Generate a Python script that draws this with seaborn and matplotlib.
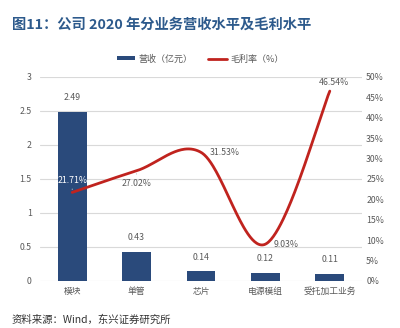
import numpy as np
import matplotlib
matplotlib.use("Agg")
import matplotlib.pyplot as plt
from matplotlib.patches import Patch
from matplotlib.lines import Line2D
import seaborn as sns

# Segment data
categories = ["模块", "单管", "芯片", "电源模组", "受托加工业务"]
revenue = [2.49, 0.43, 0.14, 0.12, 0.11]          # 营收（亿元）
margin = [21.71, 27.02, 31.53, 9.03, 46.54]       # 毛利率（%）
left_ticks = [0, 0.5, 1, 1.5, 2, 2.5, 3]
left_tick_labels = ["0", "0.5", "1", "1.5", "2", "2.5", "3"]
right_ticks = [0, 5, 10, 15, 20, 25, 30, 35, 40, 45, 50]
right_tick_labels = [f"{t}%" for t in right_ticks]

sns.set_theme(style="white")
plt.rcParams["font.family"] = ["Noto Sans CJK SC", "DejaVu Sans"]

BAR = "#2A4A7B"
LINE = "#C0231E"
GRID = "#D9D9D9"
TXT = "#595959"


def smooth_curve(xs, ys, n=60):
    """Cardinal (Catmull-Rom) Bezier smoothing through the given points."""
    xs = np.asarray(xs, float)
    ys = np.asarray(ys, float)
    px = np.concatenate([[xs[0]], xs, [xs[-1]]])
    py = np.concatenate([[ys[0]], ys, [ys[-1]]])
    out_x, out_y = [], []
    t = np.linspace(0, 1, n)
    for i in range(1, len(px) - 2):
        p0 = np.array([px[i], py[i]])
        p3 = np.array([px[i + 1], py[i + 1]])
        c1 = p0 + (np.array([px[i + 1], py[i + 1]]) - np.array([px[i - 1], py[i - 1]])) / 6
        c2 = p3 - (np.array([px[i + 2], py[i + 2]]) - np.array([px[i], py[i]])) / 6
        b = ((1 - t) ** 3)[:, None] * p0 + (3 * (1 - t) ** 2 * t)[:, None] * c1 \
            + (3 * (1 - t) * t ** 2)[:, None] * c2 + (t ** 3)[:, None] * p3
        out_x.extend(b[:, 0])
        out_y.extend(b[:, 1])
    return np.array(out_x), np.array(out_y)


fig = plt.figure(figsize=(4.0, 3.28), dpi=100)
ax = fig.add_axes([0.10, 0.1433, 0.805, 0.622])

sns.barplot(x=categories, y=revenue, color=BAR, width=0.45, ax=ax,
            saturation=1, edgecolor="none")
ax.set_xlim(-0.5, len(categories) - 0.5)
ax.set_ylim(0, 3)
ax.set_yticks(left_ticks)
ax.set_yticklabels(left_tick_labels)
ax.yaxis.grid(True, color=GRID, linewidth=0.8)
ax.set_axisbelow(True)
for s in ax.spines.values():
    s.set_visible(False)
ax.tick_params(axis="both", length=0, colors=TXT, labelsize=6.3)
ax.tick_params(axis="y", pad=6)
ax.tick_params(axis="x", pad=4)
ax.set_xlabel("")
ax.set_ylabel("")

for i, v in enumerate(revenue):
    ax.annotate(f"{v:.2f}", (i, v), xytext=(0, 7), textcoords="offset points",
                ha="center", va="bottom", fontsize=6.3, color=TXT)

ax2 = ax.twinx()
sx, sy = smooth_curve(range(len(margin)), margin)
ax2.plot(sx, sy, color=LINE, linewidth=2.0, solid_capstyle="round")
ax2.set_ylim(0, 50)
ax2.set_yticks(right_ticks)
ax2.set_yticklabels(right_tick_labels)
for s in ax2.spines.values():
    s.set_visible(False)
ax2.tick_params(axis="y", length=0, colors=TXT, labelsize=6.3, pad=3)
ax2.grid(False)

# Margin labels: (offset x pt, offset y pt, ha, colour, leader)
label_style = [
    (0, 8.5, "center", "white", True),
    (0, -9, "center", TXT, True),
    (6, 0, "left", TXT, False),
    (6, -0.5, "left", TXT, False),
    (3, 6, "center", TXT, False),
]
for i, (v, (dx, dy, ha, col, leader)) in enumerate(zip(margin, label_style)):
    ax2.annotate(f"{v:.2f}%", (i, v), xytext=(dx, dy), textcoords="offset points",
                 ha=ha, va="center", fontsize=6.3, color=col)
    if leader:
        sign = 1 if dy > 0 else -1
        ax2.annotate("", (i, v), xytext=(0, sign * 4.5), textcoords="offset points",
                     arrowprops=dict(arrowstyle="-", color="#BFBFBF", lw=0.6))

# Legend
handles = [Patch(facecolor=BAR, edgecolor="none"),
           Line2D([0], [0], color=LINE, linewidth=2.0)]
labels = ["营收（亿元）", "毛利率（%）"]
fig.legend(handles, labels, loc="center", bbox_to_anchor=(0.5, 0.82), ncol=2,
           frameon=False, fontsize=6.5, handlelength=2.1, handleheight=0.3,
           columnspacing=1.8, handletextpad=0.3, labelcolor=TXT)

fig.text(0.03, 1 - 25 / 328, "图11：公司 2020 年分业务营收水平及毛利水平",
         fontsize=10.3, fontweight="bold", color="#2D5A8C", va="center", ha="left")
fig.text(0.03, 1 - 320 / 328, "资料来源：Wind，东兴证券研究所",
         fontsize=7.5, style="italic", color="#333333", va="center", ha="left")

fig.savefig("out.png", dpi=100)
